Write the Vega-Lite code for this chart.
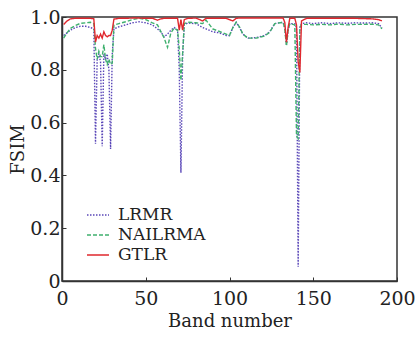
{
  "$schema": "https://vega.github.io/schema/vega-lite/v6.json",
  "width": 335,
  "height": 264,
  "autosize": {"type": "none"},
  "padding": {"left": 62, "top": 17, "right": 18, "bottom": 56},
  "background": "white",
  "config": {
    "view": {"stroke": "#333333", "strokeWidth": 1.5},
    "font": "DejaVu Serif",
    "axis": {"labelFont": "DejaVu Serif", "titleFont": "DejaVu Serif"},
    "legend": {"labelFont": "DejaVu Serif", "titleFont": "DejaVu Serif"}
  },
  "data": {
    "values": [
      {"band": 1, "LRMR": 0.93, "NAILRMA": 0.92, "GTLR": 0.972},
      {"band": 3, "LRMR": 0.94, "NAILRMA": 0.94, "GTLR": 0.985},
      {"band": 5, "LRMR": 0.95, "NAILRMA": 0.957, "GTLR": 0.993},
      {"band": 8, "LRMR": 0.96, "NAILRMA": 0.968, "GTLR": 0.995},
      {"band": 11, "LRMR": 0.965, "NAILRMA": 0.976, "GTLR": 0.995},
      {"band": 14, "LRMR": 0.965, "NAILRMA": 0.978, "GTLR": 0.995},
      {"band": 17, "LRMR": 0.96, "NAILRMA": 0.98, "GTLR": 0.995},
      {"band": 19, "LRMR": 0.955, "NAILRMA": 0.975, "GTLR": 0.993},
      {"band": 20, "LRMR": 0.52, "NAILRMA": 0.88, "GTLR": 0.905},
      {"band": 21, "LRMR": 0.84, "NAILRMA": 0.84, "GTLR": 0.93},
      {"band": 22, "LRMR": 0.86, "NAILRMA": 0.87, "GTLR": 0.92},
      {"band": 23, "LRMR": 0.83, "NAILRMA": 0.85, "GTLR": 0.935},
      {"band": 24, "LRMR": 0.51, "NAILRMA": 0.85, "GTLR": 0.92},
      {"band": 25, "LRMR": 0.86, "NAILRMA": 0.895, "GTLR": 0.944},
      {"band": 26, "LRMR": 0.84, "NAILRMA": 0.84, "GTLR": 0.93},
      {"band": 27, "LRMR": 0.86, "NAILRMA": 0.82, "GTLR": 0.925},
      {"band": 28, "LRMR": 0.8, "NAILRMA": 0.84, "GTLR": 0.93},
      {"band": 29, "LRMR": 0.5, "NAILRMA": 0.82, "GTLR": 0.93},
      {"band": 30, "LRMR": 0.86, "NAILRMA": 0.825, "GTLR": 0.95},
      {"band": 31, "LRMR": 0.955, "NAILRMA": 0.97, "GTLR": 0.992},
      {"band": 34, "LRMR": 0.963, "NAILRMA": 0.975, "GTLR": 0.995},
      {"band": 38, "LRMR": 0.97, "NAILRMA": 0.982, "GTLR": 0.995},
      {"band": 42, "LRMR": 0.978, "NAILRMA": 0.99, "GTLR": 0.996},
      {"band": 46, "LRMR": 0.982, "NAILRMA": 0.995, "GTLR": 0.996},
      {"band": 50, "LRMR": 0.978, "NAILRMA": 0.99, "GTLR": 0.995},
      {"band": 54, "LRMR": 0.97, "NAILRMA": 0.978, "GTLR": 0.995},
      {"band": 57, "LRMR": 0.955, "NAILRMA": 0.97, "GTLR": 0.988},
      {"band": 59, "LRMR": 0.944, "NAILRMA": 0.945, "GTLR": 0.993},
      {"band": 61, "LRMR": 0.925, "NAILRMA": 0.92, "GTLR": 0.995},
      {"band": 63, "LRMR": 0.935, "NAILRMA": 0.885, "GTLR": 0.995},
      {"band": 65, "LRMR": 0.95, "NAILRMA": 0.94, "GTLR": 0.995},
      {"band": 67, "LRMR": 0.96, "NAILRMA": 0.958, "GTLR": 0.995},
      {"band": 69, "LRMR": 0.95, "NAILRMA": 0.95, "GTLR": 0.995},
      {"band": 70, "LRMR": 0.8, "NAILRMA": 0.88, "GTLR": 0.95},
      {"band": 71, "LRMR": 0.41, "NAILRMA": 0.76, "GTLR": 0.99},
      {"band": 72, "LRMR": 0.85, "NAILRMA": 0.86, "GTLR": 0.95},
      {"band": 73, "LRMR": 0.97, "NAILRMA": 0.975, "GTLR": 0.99},
      {"band": 75, "LRMR": 0.977, "NAILRMA": 0.98, "GTLR": 0.995},
      {"band": 80, "LRMR": 0.975, "NAILRMA": 0.978, "GTLR": 0.996},
      {"band": 84, "LRMR": 0.96, "NAILRMA": 0.975, "GTLR": 0.985},
      {"band": 86, "LRMR": 0.955, "NAILRMA": 0.988, "GTLR": 0.995},
      {"band": 90, "LRMR": 0.944, "NAILRMA": 0.955, "GTLR": 0.995},
      {"band": 94, "LRMR": 0.94, "NAILRMA": 0.945, "GTLR": 0.995},
      {"band": 98, "LRMR": 0.93, "NAILRMA": 0.935, "GTLR": 0.995},
      {"band": 100, "LRMR": 0.93, "NAILRMA": 0.93, "GTLR": 0.99},
      {"band": 102, "LRMR": 0.96, "NAILRMA": 0.96, "GTLR": 0.985},
      {"band": 104, "LRMR": 0.98, "NAILRMA": 0.98, "GTLR": 0.995},
      {"band": 106, "LRMR": 0.96, "NAILRMA": 0.962, "GTLR": 0.996},
      {"band": 108, "LRMR": 0.935, "NAILRMA": 0.935, "GTLR": 0.996},
      {"band": 111, "LRMR": 0.92, "NAILRMA": 0.92, "GTLR": 0.996},
      {"band": 116, "LRMR": 0.922, "NAILRMA": 0.92, "GTLR": 0.996},
      {"band": 121, "LRMR": 0.93, "NAILRMA": 0.928, "GTLR": 0.996},
      {"band": 124, "LRMR": 0.944, "NAILRMA": 0.942, "GTLR": 0.996},
      {"band": 127, "LRMR": 0.975, "NAILRMA": 0.975, "GTLR": 0.996},
      {"band": 132, "LRMR": 0.98, "NAILRMA": 0.98, "GTLR": 0.996},
      {"band": 133, "LRMR": 0.96, "NAILRMA": 0.955, "GTLR": 0.98},
      {"band": 134, "LRMR": 0.895, "NAILRMA": 0.89, "GTLR": 0.905},
      {"band": 135, "LRMR": 0.95, "NAILRMA": 0.95, "GTLR": 0.96},
      {"band": 136, "LRMR": 0.975, "NAILRMA": 0.975, "GTLR": 0.995},
      {"band": 139, "LRMR": 0.975, "NAILRMA": 0.97, "GTLR": 0.995},
      {"band": 140, "LRMR": 0.96, "NAILRMA": 0.55, "GTLR": 0.97},
      {"band": 141, "LRMR": 0.054, "NAILRMA": 0.54, "GTLR": 0.83},
      {"band": 142, "LRMR": 0.96, "NAILRMA": 0.96, "GTLR": 0.79},
      {"band": 143, "LRMR": 0.975, "NAILRMA": 0.972, "GTLR": 0.985},
      {"band": 146, "LRMR": 0.978, "NAILRMA": 0.972, "GTLR": 0.995},
      {"band": 150, "LRMR": 0.975, "NAILRMA": 0.97, "GTLR": 0.995},
      {"band": 155, "LRMR": 0.978, "NAILRMA": 0.972, "GTLR": 0.995},
      {"band": 160, "LRMR": 0.975, "NAILRMA": 0.97, "GTLR": 0.995},
      {"band": 165, "LRMR": 0.978, "NAILRMA": 0.973, "GTLR": 0.995},
      {"band": 170, "LRMR": 0.976, "NAILRMA": 0.97, "GTLR": 0.995},
      {"band": 175, "LRMR": 0.978, "NAILRMA": 0.972, "GTLR": 0.995},
      {"band": 180, "LRMR": 0.977, "NAILRMA": 0.972, "GTLR": 0.994},
      {"band": 185, "LRMR": 0.978, "NAILRMA": 0.973, "GTLR": 0.993},
      {"band": 189, "LRMR": 0.975, "NAILRMA": 0.97, "GTLR": 0.99},
      {"band": 191, "LRMR": 0.958, "NAILRMA": 0.955, "GTLR": 0.985}
    ]
  },
  "transform": [
    {"fold": ["LRMR", "NAILRMA", "GTLR"], "as": ["method", "fsim"]}
  ],
  "mark": {"type": "line", "strokeWidth": 1.4, "clip": true},
  "encoding": {
    "x": {
      "field": "band",
      "type": "quantitative",
      "scale": {"domain": [0, 200], "nice": false},
      "axis": {
        "title": "Band number",
        "values": [0, 50, 100, 150, 200],
        "grid": false,
        "domainColor": "#333333",
        "domainWidth": 1.5,
        "tickColor": "#333333",
        "tickSize": -4,
        "labelFontSize": 19,
        "labelColor": "#222222",
        "labelPadding": 12,
        "titleFontSize": 18,
        "titleFontWeight": "normal",
        "titleColor": "#222222",
        "titlePadding": 4,
        "labelFlush": false
      }
    },
    "y": {
      "field": "fsim",
      "type": "quantitative",
      "scale": {"domain": [0, 1], "nice": false},
      "axis": {
        "title": "FSIM",
        "values": [0, 0.2, 0.4, 0.6, 0.8, 1.0],
        "labelExpr": "datum.value == 0 ? '0' : format(datum.value, '.1f')",
        "grid": false,
        "domainColor": "#333333",
        "domainWidth": 1.5,
        "tickColor": "#333333",
        "tickSize": -4,
        "labelFontSize": 19,
        "labelColor": "#222222",
        "labelPadding": 6,
        "titleFontSize": 18,
        "titleFontWeight": "normal",
        "titleColor": "#222222",
        "titlePadding": 2,
        "labelFlush": false
      }
    },
    "color": {
      "field": "method",
      "type": "nominal",
      "sort": ["LRMR", "NAILRMA", "GTLR"],
      "scale": {
        "domain": ["LRMR", "NAILRMA", "GTLR"],
        "range": ["#5a47b8", "#3fb06e", "#e0282e"]
      },
      "legend": {
        "title": null,
        "orient": "none",
        "legendX": 24,
        "legendY": 186,
        "symbolType": "stroke",
        "symbolSize": 484,
        "symbolStrokeWidth": 1.6,
        "labelFont": "DejaVu Serif",
        "labelFontSize": 17,
        "labelColor": "#222222",
        "rowPadding": 0,
        "labelOffset": 8
      }
    },
    "strokeDash": {
      "field": "method",
      "type": "nominal",
      "sort": ["LRMR", "NAILRMA", "GTLR"],
      "scale": {
        "domain": ["LRMR", "NAILRMA", "GTLR"],
        "range": [[1.5, 1.5], [4, 2], [1, 0]]
      },
      "legend": null
    }
  }
}
